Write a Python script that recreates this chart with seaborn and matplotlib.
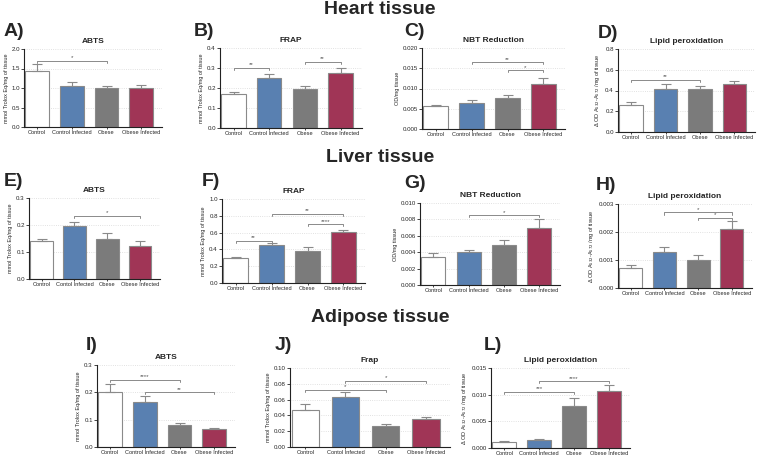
import matplotlib
matplotlib.use("Agg")
import matplotlib.pyplot as plt
import seaborn as sns

groups = ["Control", "Control Infected", "Obese", "Obese Infected"]
groups_typo = ["Control", "Contol Infected", "Obese", "Obese Infected"]
bar_colors = ["#ffffff", "#4a7ec0", "#7b7b7b", "#b2234f"]

# heart tissue
heart_abts = [1.43, 1.05, 1.00, 1.00]
heart_abts_err = [0.18, 0.10, 0.04, 0.07]
heart_frap = [0.170, 0.250, 0.197, 0.277]
heart_frap_err = [0.010, 0.018, 0.013, 0.022]
heart_nbt = [0.0057, 0.0063, 0.0076, 0.0110]
heart_nbt_err = [0.0003, 0.0008, 0.0008, 0.0016]
heart_lipid = [0.265, 0.41, 0.41, 0.46]
heart_lipid_err = [0.020, 0.055, 0.035, 0.030]

# liver tissue
liver_abts = [0.140, 0.195, 0.150, 0.123]
liver_abts_err = [0.008, 0.017, 0.020, 0.018]
liver_frap = [0.30, 0.45, 0.38, 0.61]
liver_frap_err = [0.010, 0.025, 0.050, 0.025]
liver_nbt = [0.0034, 0.0040, 0.0049, 0.0069]
liver_nbt_err = [0.0005, 0.0003, 0.0006, 0.0011]
liver_lipid = [0.0007, 0.0013, 0.0010, 0.0021]
liver_lipid_err = [0.00012, 0.00015, 0.00018, 0.0003]

# adipose tissue
adip_abts = [0.203, 0.165, 0.080, 0.065]
adip_abts_err = [0.028, 0.020, 0.006, 0.003]
adip_frap = [0.047, 0.063, 0.026, 0.035]
adip_frap_err = [0.008, 0.006, 0.003, 0.003]
adip_lipid = [0.0012, 0.0015, 0.0079, 0.0106]
adip_lipid_err = [0.0001, 0.0001, 0.0015, 0.0013]

trolox = "mmol Trolox Eq/mg of tissue"
odmg = "OD/mg tissue"
lipid_lab = r"$\Delta$ OD A$_{532}$-A$_{572}$ /mg of tissue"

W, H = 758, 459
sns.set_theme(style="white")
plt.rcParams["font.family"] = ["Liberation Sans", "DejaVu Sans"]
fig = plt.figure(figsize=(W / 100, H / 100), dpi=100)


def px_axes(x0, y0, x1, y1):
    return fig.add_axes([x0 / W, 1 - y1 / H, (x1 - x0) / W, (y1 - y0) / H])


def panel(box, letter, letter_xy, title, vals, errs, ymax, step, ylabel,
          brackets, labels=groups, fmt="{:.1f}"):
    ax = px_axes(*box)
    sns.barplot(x=labels, y=vals, hue=labels, palette=bar_colors, legend=False,
                ax=ax, width=0.68, edgecolor="#8a8a8a", linewidth=0.8)
    ax.errorbar(range(4), vals, yerr=[[0] * 4, errs], fmt="none",
                ecolor="#8a8a8a", elinewidth=0.8, capsize=3.5, capthick=0.8)
    ax.set_xlim(-0.38, 3.6)
    ax.set_ylim(0, ymax)
    ticks = [i * step for i in range(int(round(ymax / step)) + 1)]
    ax.set_yticks(ticks)
    ax.set_yticklabels([fmt.format(t) for t in ticks])
    ax.yaxis.grid(True, linestyle=":", color="#d8d8d8", linewidth=0.6)
    ax.set_axisbelow(True)
    for s in ["top", "right"]:
        ax.spines[s].set_visible(False)
    for s in ["left", "bottom"]:
        ax.spines[s].set_color("#222222")
        ax.spines[s].set_linewidth(0.8)
    ax.tick_params(axis="y", labelsize=4.4, length=2, width=0.6, left=True, pad=1)
    ax.tick_params(axis="x", labelsize=4.1, length=1.5, width=0.6, bottom=True, pad=1)
    ax.set_ylabel(ylabel, fontsize=4.0, labelpad=2)
    ax.set_xlabel("")
    ax.set_title(title, fontsize=6, fontweight="bold", pad=4)
    dy = ymax * 0.025
    for (a, b, y, stars) in brackets:
        ax.plot([a, a, b, b], [y - dy, y, y, y - dy], color="#8a8a8a", lw=0.7)
        ax.text((a + b) / 2, y + dy * 0.3, stars, ha="center", va="bottom",
                fontsize=4.5, color="#555555")
    fig.text(letter_xy[0] / W, 1 - letter_xy[1] / H, letter, fontsize=14,
             fontweight="bold", ha="left", va="center")
    return ax


# section titles
for txt, y in [("Heart tissue", 9), ("Liver tissue", 158), ("Adipose tissue", 318)]:
    fig.text(380 / W, 1 - y / H, txt, fontsize=14, fontweight="bold",
             ha="center", va="center")

# row 1
panel((24, 49, 162, 127), "A)", (4, 31), "ABTS", heart_abts, heart_abts_err,
      2.0, 0.5, trolox, [(0, 2, 1.7, "*")])
panel((220, 48, 362, 128), "B)", (194, 32), "FRAP", heart_frap, heart_frap_err,
      0.4, 0.1, trolox, [(0, 1, 0.30, "**"), (2, 3, 0.33, "**")])
panel((422, 48, 565, 129), "C)", (404, 31), "NBT Reduction", heart_nbt, heart_nbt_err,
      0.020, 0.005, odmg, [(1, 3, 0.0165, "**"), (2, 3, 0.0145, "*")], fmt="{:.3f}")
panel((618, 49, 755, 132), "D)", (598, 33), "Lipid peroxidation", heart_lipid,
      heart_lipid_err, 0.8, 0.2, lipid_lab, [(0, 2, 0.5, "**")])

# row 2
panel((29, 198, 160, 279), "E)", (4, 181), "ABTS", liver_abts, liver_abts_err,
      0.3, 0.1, trolox, [(1, 3, 0.235, "*")], labels=groups_typo)
panel((222, 199, 365, 283), "F)", (202, 181), "FRAP", liver_frap, liver_frap_err,
      1.0, 0.2, trolox, [(0, 1, 0.50, "**"), (2, 3, 0.70, "****"), (1, 3, 0.82, "**")])
panel((420, 203, 560, 285), "G)", (404, 183), "NBT Reduction", liver_nbt, liver_nbt_err,
      0.010, 0.002, odmg, [(1, 3, 0.0085, "*")], fmt="{:.3f}")
panel((618, 204, 752, 288), "H)", (596, 185), "Lipid peroxidation", liver_lipid,
      liver_lipid_err, 0.003, 0.001, lipid_lab,
      [(1, 3, 0.0027, "*"), (2, 3, 0.0025, "*")], fmt="{:.3f}")

# row 3
panel((97, 365, 235, 447), "I)", (86, 345), "ABTS", adip_abts, adip_abts_err,
      0.3, 0.1, trolox, [(0, 2, 0.245, "****"), (1, 3, 0.20, "**")])
panel((290, 368, 450, 447), "J)", (275, 345), "Frap", adip_frap, adip_frap_err,
      0.10, 0.02, trolox, [(0, 2, 0.072, "*"), (1, 3, 0.084, "*")],
      labels=groups_typo, fmt="{:.2f}")
panel((491, 368, 630, 448), "L)", (484, 345), "Lipid peroxidation", adip_lipid,
      adip_lipid_err, 0.015, 0.005, lipid_lab,
      [(0, 2, 0.0105, "***"), (1, 3, 0.0125, "****")], fmt="{:.3f}")

fig.savefig("out.png", dpi=100)
